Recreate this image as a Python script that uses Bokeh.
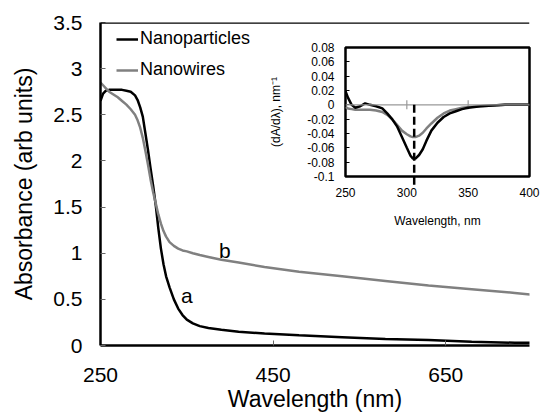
import math

from bokeh.core.properties import value
from bokeh.embed import file_html
from bokeh.layouts import column
from bokeh.models import (FixedTicker, Legend, LegendItem,
                          NumeralTickFormatter, Range1d, Span)
from bokeh.plotting import figure
from bokeh.resources import INLINE

FONT = "Liberation Sans"
GREY = "#808080"

# ---- UV-vis absorbance spectra -------------------------------------------
wavelength = [250, 253, 256, 260, 265, 270, 275, 280, 285, 290, 293, 296, 299,
              302, 305, 308, 311, 314, 317, 320, 323, 326, 330, 335, 340, 345,
              350, 357, 365, 375, 390, 410, 440, 480, 530, 580, 630, 680, 730,
              750]
abs_nanoparticles = [2.65, 2.73, 2.76, 2.77, 2.77, 2.77, 2.77, 2.76, 2.75,
                     2.71, 2.66, 2.58, 2.48, 2.30, 2.12, 1.92, 1.73, 1.52,
                     1.27, 1.05, 0.88, 0.75, 0.63, 0.50, 0.40, 0.33, 0.28,
                     0.24, 0.21, 0.19, 0.17, 0.15, 0.13, 0.11, 0.09, 0.07,
                     0.06, 0.04, 0.03, 0.03]
abs_nanowires = [2.85, 2.82, 2.79, 2.75, 2.72, 2.69, 2.65, 2.61, 2.56, 2.50,
                 2.44, 2.36, 2.25, 2.11, 1.96, 1.80, 1.66, 1.54, 1.42, 1.32,
                 1.24, 1.18, 1.12, 1.08, 1.05, 1.03, 1.02, 1.00, 0.98, 0.96,
                 0.93, 0.90, 0.85, 0.80, 0.75, 0.70, 0.65, 0.61, 0.57, 0.55]
series_names = ["Nanoparticles", "Nanowires"]
x_ticks = [250, 450, 650]
y_ticks = [0, 0.5, 1, 1.5, 2, 2.5, 3, 3.5]

# curve tags
curve_tags = ["a", "b"]
tag_x = [350, 394]
tag_y = [0.54, 1.03]

# ---- first derivative dA/dλ (inset) --------------------------------------
deriv_wavelength = [250, 252, 255, 258, 262, 266, 270, 275, 280, 284, 288, 292,
                    296, 300, 303, 305, 307, 310, 313, 316, 320, 325, 330, 335,
                    340, 345, 350, 360, 370, 380, 390, 400]
deriv_nanoparticles = [0.019, 0.010, 0.000, -0.004, -0.002, 0.002, 0.000,
                       -0.002, -0.005, -0.012, -0.020, -0.030, -0.045, -0.060,
                       -0.071, -0.075, -0.075, -0.070, -0.062, -0.050, -0.036,
                       -0.025, -0.017, -0.012, -0.009, -0.006, -0.004, -0.002,
                       -0.001, 0.000, 0.000, 0.000]
deriv_nanowires = [-0.003, -0.005, -0.006, -0.007, -0.007, -0.007, -0.007,
                   -0.008, -0.010, -0.014, -0.020, -0.028, -0.036, -0.041,
                   -0.044, -0.045, -0.045, -0.043, -0.039, -0.033, -0.026,
                   -0.018, -0.012, -0.008, -0.006, -0.004, -0.003, -0.002,
                   -0.001, 0.000, 0.000, 0.000]
peak_wavelength = 306
inset_x_ticks = [250, 300, 350, 400]
inset_y_ticks = [-0.1, -0.08, -0.06, -0.04, -0.02, 0, 0.02, 0.04, 0.06, 0.08]
zero_axis_ticks = [300, 350]


# ---- main plot -------------------------------------------------------------
p = figure(width=544, height=414, x_range=Range1d(250, 747),
           y_range=Range1d(0, 3.5), output_backend="svg",
           toolbar_location=None, min_border_left=97, min_border_right=0,
           min_border_top=22, min_border_bottom=69,
           background_fill_color="white", border_fill_color="white")
p.outline_line_color = None
p.grid.visible = False

p.xaxis.ticker = FixedTicker(ticks=x_ticks)
p.yaxis.ticker = FixedTicker(ticks=y_ticks)
p.yaxis.formatter = NumeralTickFormatter(format="0.[0]")
p.xaxis.axis_label = "Wavelength (nm)"
p.yaxis.axis_label = "Absorbance (arb units)"
for ax in (p.xaxis[0], p.yaxis[0]):
    ax.axis_line_width = 2.5
    ax.axis_line_color = "black"
    ax.major_tick_in = 5
    ax.major_tick_out = 0
    ax.minor_tick_in = 0
    ax.minor_tick_out = 0
    ax.major_tick_line_color = "#666666"
    ax.major_tick_line_width = 1
    ax.major_label_text_font = FONT
    ax.major_label_text_font_size = "21px"
    ax.major_label_text_color = "black"
    ax.axis_label_text_font = FONT
    ax.axis_label_text_font_size = "23px"
    ax.axis_label_text_font_style = "normal"
    ax.axis_label_text_color = "black"
p.xaxis.major_label_standoff = 22
p.xaxis.axis_label_standoff = 1
p.yaxis.major_label_standoff = 18
p.yaxis.axis_label_standoff = 13

# top border of the plot area
p.add_layout(Span(location=p.y_range.end, dimension="width",
                  line_color="black", line_width=2.5))

r_np = p.line(wavelength, abs_nanoparticles, line_color="black", line_width=2.5)
r_nw = p.line(wavelength, abs_nanowires, line_color=GREY, line_width=2.5)

p.text(x=tag_x, y=tag_y, text=curve_tags, text_font=value(FONT),
       text_font_size="21px", text_align="center", text_baseline="middle",
       text_color="black")

legend = Legend(items=[LegendItem(label=series_names[0], renderers=[r_np]),
                       LegendItem(label=series_names[1], renderers=[r_nw])],
                location=(16, 265), margin=0, padding=0, spacing=10,
                glyph_width=22, glyph_height=20, label_height=20,
                label_standoff=2, label_text_font=FONT,
                label_text_font_size="18px", label_text_color="black",
                border_line_color=None, background_fill_alpha=0)
p.add_layout(legend)

# ---- inset: derivative spectra -------------------------------------------
inset = figure(width=299, height=192, x_range=Range1d(250, 400),
               y_range=Range1d(-0.1, 0.08), output_backend="svg",
               toolbar_location=None, min_border_left=100, min_border_right=15,
               min_border_top=9, min_border_bottom=53,
               background_fill_color=None, border_fill_color=None)
inset.styles = {"position": "absolute", "left": "245px", "top": "38px"}
inset.outline_line_color = "black"
inset.outline_line_width = 2.5
inset.grid.visible = False

inset.xaxis.ticker = FixedTicker(ticks=inset_x_ticks)
inset.yaxis.ticker = FixedTicker(ticks=inset_y_ticks)
inset.yaxis.formatter = NumeralTickFormatter(format="0.[00]")
inset.xaxis.axis_label = "Wavelength, nm"
inset.yaxis.axis_label = "(dA/dλ), nm⁻¹"
for ax in (inset.xaxis[0], inset.yaxis[0]):
    ax.axis_line_color = None
    ax.minor_tick_in = 0
    ax.minor_tick_out = 0
    ax.major_tick_out = 0
    ax.major_label_text_font = FONT
    ax.major_label_text_font_size = "12px"
    ax.major_label_text_color = "black"
    ax.axis_label_text_font = FONT
    ax.axis_label_text_font_size = "12px"
    ax.axis_label_text_font_style = "normal"
    ax.axis_label_text_color = "black"
inset.xaxis.major_tick_in = 0
inset.yaxis.major_tick_in = 4
inset.yaxis.major_tick_line_color = "black"
inset.xaxis.major_label_standoff = 11
inset.xaxis.axis_label_standoff = 14
inset.yaxis.major_label_standoff = 11
inset.yaxis.axis_label_standoff = 21

# zero line with its tick marks
inset.add_layout(Span(location=0, dimension="width", line_color="#999999",
                      line_width=1.2))
inset.scatter(x=zero_axis_ticks, y=[0] * len(zero_axis_ticks), marker="dash",
              angle=math.pi / 2, size=9, line_color="#999999", line_width=1.2)

inset.line(deriv_wavelength, deriv_nanowires, line_color=GREY, line_width=2.5)
inset.line(deriv_wavelength, deriv_nanoparticles, line_color="black",
           line_width=2.5)
# dashed marker at the derivative minimum, running past the lower edge
inset.segment(x0=[peak_wavelength], y0=[0], x1=[peak_wavelength],
              y1=[-0.113], line_color="black", line_width=2.5,
              line_dash="8 4", level="overlay")

layout = column(p, inset, spacing=0)
open("out.html", "w").write(file_html(layout, INLINE))
